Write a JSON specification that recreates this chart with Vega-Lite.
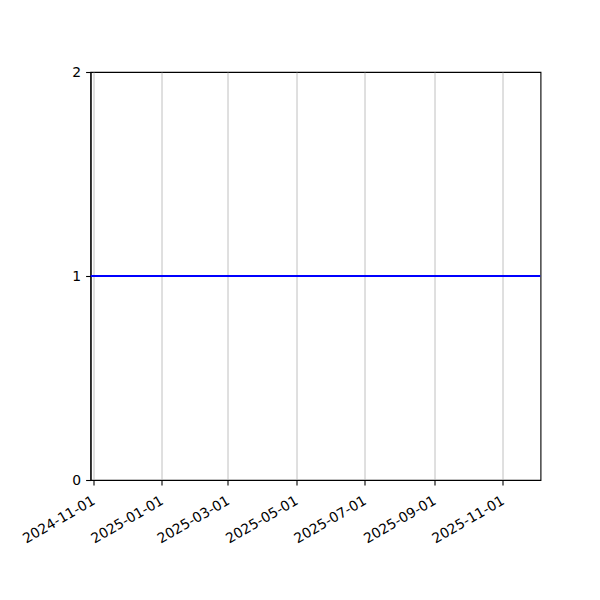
{
  "$schema": "https://vega.github.io/schema/vega-lite/v6.json",
  "width": 450,
  "height": 408,
  "autosize": {"type": "none"},
  "padding": {"left": 90.5, "top": 72, "right": 59.5, "bottom": 120},
  "background": "white",
  "data": {
    "values": [
      {"date": "2024-10-29T16:00:00Z", "value": 1},
      {"date": "2025-12-04T22:00:00Z", "value": 1}
    ]
  },
  "mark": {"type": "line", "color": "#0000ff", "strokeWidth": 2.08, "clip": true},
  "encoding": {
    "x": {
      "field": "date",
      "type": "temporal",
      "scale": {
        "type": "utc",
        "domain": [
          {"year": 2024, "month": 10, "date": 29, "hours": 16, "utc": true},
          {"year": 2025, "month": 12, "date": 4, "hours": 22, "utc": true}
        ],
        "nice": false
      },
      "axis": {
        "title": null,
        "values": [
          {"year": 2024, "month": 11, "date": 1, "utc": true},
          {"year": 2025, "month": 1, "date": 1, "utc": true},
          {"year": 2025, "month": 3, "date": 1, "utc": true},
          {"year": 2025, "month": 5, "date": 1, "utc": true},
          {"year": 2025, "month": 7, "date": 1, "utc": true},
          {"year": 2025, "month": 9, "date": 1, "utc": true},
          {"year": 2025, "month": 11, "date": 1, "utc": true}
        ],
        "labelExpr": "utcFormat(datum.value, '%Y-%m-%d')",
        "labelAngle": -30,
        "labelAlign": "right",
        "labelBaseline": "top",
        "labelPadding": 8.5,
        "labelOffset": -3,
        "grid": true,
        "gridColor": "#b0b0b0",
        "gridWidth": 0.8,
        "gridOpacity": 1,
        "labelOverlap": false,
        "labelFlush": false
      }
    },
    "y": {
      "field": "value",
      "type": "quantitative",
      "scale": {"domain": [0, 2], "nice": false, "zero": false},
      "axis": {
        "title": null,
        "values": [0, 1, 2],
        "labelExpr": "format(datum.value, 'd')",
        "grid": false,
        "labelOverlap": false,
        "labelFlush": false
      }
    }
  },
  "config": {
    "view": {"stroke": "black", "strokeWidth": 1.1},
    "axis": {
      "domainColor": "black",
      "domainWidth": 1.1,
      "domainOpacity": 1,
      "tickColor": "black",
      "tickWidth": 1.1,
      "tickSize": 4.9,
      "labelColor": "black",
      "labelFont": "DejaVu Sans",
      "labelFontSize": 13.9,
      "labelPadding": 4.9
    }
  }
}
